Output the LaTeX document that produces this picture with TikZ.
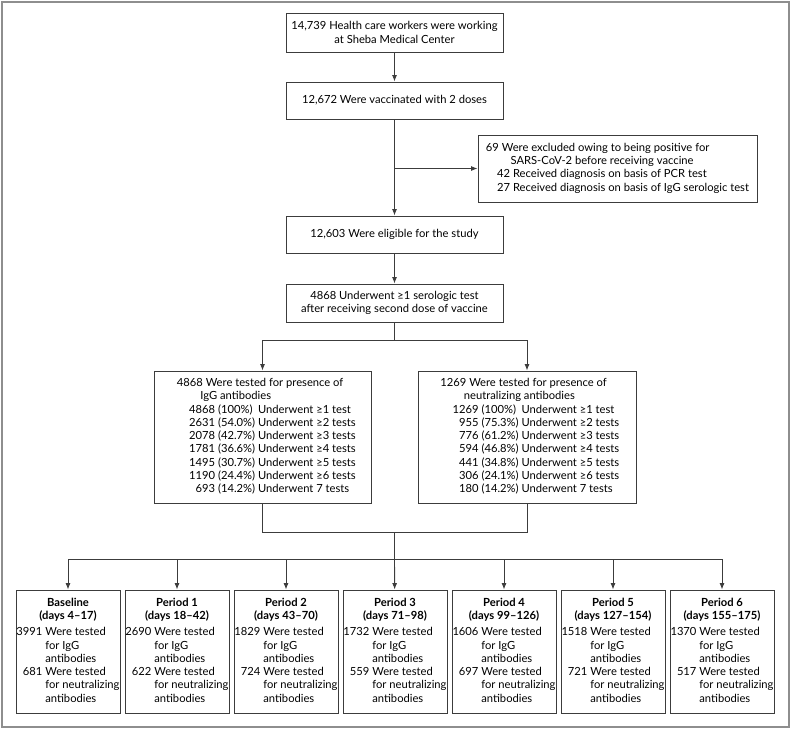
\documentclass[tikz,border=0pt]{standalone}
\usepackage{fontspec}
\setmainfont{Lato}
\usetikzlibrary{arrows.meta,positioning}
\definecolor{nejmline}{HTML}{3C3C3C}
\definecolor{nejmframe}{HTML}{8E8E8E}

\begin{document}
\begin{tikzpicture}[x=1pt, y=-1pt,
  box/.style={draw=nejmline, line width=0.9pt, minimum width=217pt, minimum height=#1, align=center, inner sep=0pt, font=\fontsize{11.2}{13.3}\selectfont},
  box/.default=37pt,
  period/.style={draw=nejmline, line width=0.9pt, minimum width=104pt, minimum height=123pt, inner sep=0pt, font=\fontsize{11.2}{13.3}\selectfont},
  flow/.style={draw=nejmline, line width=0.9pt},
  arr/.style={flow, -{Latex[length=6.5pt,width=5pt]}}
]
  \useasboundingbox (0,0) rectangle (791,729);
  \draw[nejmframe, line width=1.4pt] (2,2) rectangle (789,727);

  \node[box=39pt] (workers) at (394.5,32.5) {14,739 Health care workers were working\\at Sheba Medical Center};
  \node[box] (vaccinated) at (394.5,100.5) {12,672 Were vaccinated with 2 doses};
  \node[box=67pt, minimum width=279pt] (excluded) at (617.5,168.5) {\begin{tabular}{@{}l@{}}
    69 Were excluded owing to being positive for\\
    \hspace*{2.2em}SARS-CoV-2 before receiving vaccine\\
    \hspace*{1em}42 Received diagnosis on basis of PCR test\\
    \hspace*{1em}27 Received diagnosis on basis of IgG serologic test
  \end{tabular}};
  \node[box] (eligible) at (394.5,234.5) {12,603 Were eligible for the study};
  \node[box=38pt] (serologic) at (394.5,303) {4868 Underwent ≥1 serologic test\\after receiving second dose of vaccine};

  \node[box=132pt] (igg) at (262.5,437) {\hspace*{20pt}\begin{tabular}{@{}r@{ }l@{ }l@{}}
    \multicolumn{3}{@{}l@{}}{\hspace*{-1.1em}4868 Were tested for presence of}\\
    \multicolumn{3}{@{}l@{}}{\hspace*{1em}IgG antibodies}\\
    4868 & (100\%) & Underwent ≥1 test\\
    2631 & (54.0\%) & Underwent ≥2 tests\\
    2078 & (42.7\%) & Underwent ≥3 tests\\
    1781 & (36.6\%) & Underwent ≥4 tests\\
    1495 & (30.7\%) & Underwent ≥5 tests\\
    1190 & (24.4\%) & Underwent ≥6 tests\\
    693 & (14.2\%) & Underwent 7 tests
  \end{tabular}};
  \node[box=132pt, minimum width=218pt] (neutral) at (527,437) {\hspace*{18pt}\begin{tabular}{@{}r@{ }l@{ }l@{}}
    \multicolumn{3}{@{}l@{}}{\hspace*{-1.1em}1269 Were tested for presence of}\\
    \multicolumn{3}{@{}l@{}}{\hspace*{1em}neutralizing antibodies}\\
    1269 & (100\%) & Underwent ≥1 test\\
    955 & (75.3\%) & Underwent ≥2 tests\\
    776 & (61.2\%) & Underwent ≥3 tests\\
    594 & (46.8\%) & Underwent ≥4 tests\\
    441 & (34.8\%) & Underwent ≥5 tests\\
    306 & (24.1\%) & Underwent ≥6 tests\\
    180 & (14.2\%) & Underwent 7 tests
  \end{tabular}};

  \node[period] (baseline) at (68,651.5) {\begin{tabular}{@{}r@{ }l@{}}
    \multicolumn{2}{@{}c@{}}{\bfseries Baseline}\\
    \multicolumn{2}{@{}c@{}}{\bfseries (days 4--17)}\\[3pt]
    3991 & Were tested\\ & for IgG\\ & antibodies\\
    681 & Were tested\\ & for neutralizing\\ & antibodies
  \end{tabular}};
  \node[period] (period1) at (177,651.5) {\begin{tabular}{@{}r@{ }l@{}}
    \multicolumn{2}{@{}c@{}}{\bfseries Period 1}\\
    \multicolumn{2}{@{}c@{}}{\bfseries (days 18--42)}\\[3pt]
    2690 & Were tested\\ & for IgG\\ & antibodies\\
    622 & Were tested\\ & for neutralizing\\ & antibodies
  \end{tabular}};
  \node[period] (period2) at (286,651.5) {\begin{tabular}{@{}r@{ }l@{}}
    \multicolumn{2}{@{}c@{}}{\bfseries Period 2}\\
    \multicolumn{2}{@{}c@{}}{\bfseries (days 43--70)}\\[3pt]
    1829 & Were tested\\ & for IgG\\ & antibodies\\
    724 & Were tested\\ & for neutralizing\\ & antibodies
  \end{tabular}};
  \node[period] (period3) at (395,651.5) {\begin{tabular}{@{}r@{ }l@{}}
    \multicolumn{2}{@{}c@{}}{\bfseries Period 3}\\
    \multicolumn{2}{@{}c@{}}{\bfseries (days 71--98)}\\[3pt]
    1732 & Were tested\\ & for IgG\\ & antibodies\\
    559 & Were tested\\ & for neutralizing\\ & antibodies
  \end{tabular}};
  \node[period] (period4) at (504,651.5) {\begin{tabular}{@{}r@{ }l@{}}
    \multicolumn{2}{@{}c@{}}{\bfseries Period 4}\\
    \multicolumn{2}{@{}c@{}}{\bfseries (days 99--126)}\\[3pt]
    1606 & Were tested\\ & for IgG\\ & antibodies\\
    697 & Were tested\\ & for neutralizing\\ & antibodies
  \end{tabular}};
  \node[period] (period5) at (613,651.5) {\begin{tabular}{@{}r@{ }l@{}}
    \multicolumn{2}{@{}c@{}}{\bfseries Period 5}\\
    \multicolumn{2}{@{}c@{}}{\bfseries (days 127--154)}\\[3pt]
    1518 & Were tested\\ & for IgG\\ & antibodies\\
    721 & Were tested\\ & for neutralizing\\ & antibodies
  \end{tabular}};
  \node[period] (period6) at (722,651.5) {\begin{tabular}{@{}r@{ }l@{}}
    \multicolumn{2}{@{}c@{}}{\bfseries Period 6}\\
    \multicolumn{2}{@{}c@{}}{\bfseries (days 155--175)}\\[3pt]
    1370 & Were tested\\ & for IgG\\ & antibodies\\
    517 & Were tested\\ & for neutralizing\\ & antibodies
  \end{tabular}};

  % connectors
  \coordinate (split) at (394.5,340);
  \coordinate (merge) at (394.5,532);
  \coordinate (fan) at (394.5,559);
  \draw[arr] (workers) -- (vaccinated);
  \draw[arr] (vaccinated) -- (eligible);
  \draw[arr] (vaccinated.south |- excluded.west) -- (excluded.west);
  \draw[arr] (eligible) -- (serologic);
  \draw[flow] (serologic) -- (split);
  \draw[arr] (split) -| (igg);
  \draw[arr] (split) -| (neutral);
  \draw[flow] (igg) |- (merge);
  \draw[flow] (neutral) |- (merge);
  \draw[flow] (merge) -- (fan);
  \draw[arr] (fan) -| (baseline);
  \draw[arr] (fan) -| (period1);
  \draw[arr] (fan) -| (period2);
  \draw[arr] (fan) -- (period3);
  \draw[arr] (fan) -| (period4);
  \draw[arr] (fan) -| (period5);
  \draw[arr] (fan) -| (period6);
\end{tikzpicture}
\end{document}
